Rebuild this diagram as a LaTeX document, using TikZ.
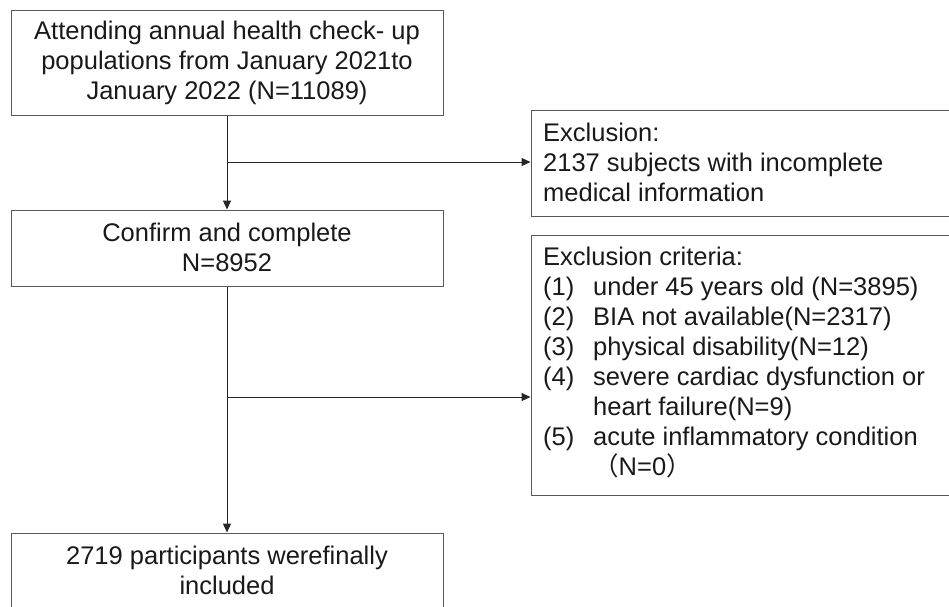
\documentclass[tikz,border=0pt]{standalone}
\usepackage{fontspec}
\setmainfont{Liberation Sans}
\newfontfamily\cjk{Noto Sans CJK SC}
\usetikzlibrary{arrows.meta}
\begin{document}
\begin{tikzpicture}[x=1pt,y=-1pt,
  box/.style={draw=black!65, line width=1pt, inner sep=0pt},
  txt/.style={font=\fontsize{25.5}{30}\selectfont, inner sep=0pt, text=black!90},
  conn/.style={draw=black!85, line width=1pt},
  arr/.style={conn, -{Triangle[length=9pt,width=8pt]}}]
\useasboundingbox (0,0) rectangle (949,606);
% boxes
\node[box, minimum width=432pt, minimum height=105pt] (start) at (227,63.3) {};
\node[box, minimum width=432pt, minimum height=76pt] (confirm) at (227,248) {};
\node[box, minimum width=432pt, minimum height=117pt] (final) at (227,591.5) {};
\node[box, minimum width=449pt, minimum height=106pt] (excl1) at (755.5,163) {};
\node[box, minimum width=449pt, minimum height=260pt] (excl2) at (755.5,365) {};
% texts
\node[txt, align=center] (starttxt) at (227,63) {Attending annual health check- up\\populations from January 2021to\\January 2022 (N=11089)};
\node[txt, align=center] (confirmtxt) at (227,247) {Confirm and complete\\N=8952};
\node[txt, align=center] (finaltxt) at (227,570) {2719 participants werefinally\\included};
\node[txt, align=left, anchor=west] (excl1txt) at (543,162.5) {Exclusion:\\2137 subjects with incomplete\\medical information};
\node[txt, align=left, anchor=west] (excl2txt) at (543,362.5) {Exclusion criteria:\\
\makebox[50pt][l]{(1)}under 45 years old (N=3895)\\
\makebox[50pt][l]{(2)}BIA not available(N=2317)\\
\makebox[50pt][l]{(3)}physical disability(N=12)\\
\makebox[50pt][l]{(4)}severe cardiac dysfunction or\\
\hspace*{50pt}heart failure(N=9)\\
\makebox[50pt][l]{(5)}acute inflammatory condition\\
\hspace*{50pt}{\cjk （}N=0{\cjk ）}};
% connectors
\coordinate (b1) at (227,162);
\coordinate (b2) at (227,397);
\draw[arr] (start.south) -- (confirm.north);
\draw[arr] (b1) -- (b1 -| excl1.west);
\draw[arr] (confirm.south) -- (final.north);
\draw[arr] (b2) -- (b2 -| excl2.west);
\end{tikzpicture}
\end{document}
